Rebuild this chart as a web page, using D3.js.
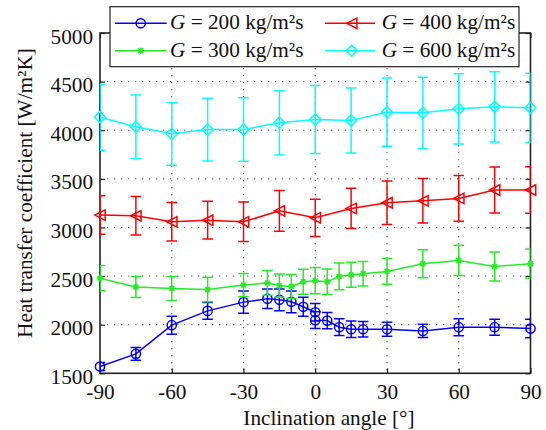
<!DOCTYPE html>
<html>
<head>
<meta charset="utf-8">
<script src="https://cdn.jsdelivr.net/npm/d3@7"></script>
<style>
  html, body { margin: 0; padding: 0; background: #fff; }
  svg { display: block; }
</style>
</head>
<body>
<svg id="chart" width="546" height="430"></svg>
<script>
// ---- data ----
const xTicks = [-90, -60, -30, 0, 30, 60, 90];
const yTicks = [1500, 2000, 2500, 3000, 3500, 4000, 4500, 5000];

const angles200 = [-90, -75, -60, -45, -30, -20, -15, -10, -5, 0, 0, 5, 10, 15, 20, 30, 45, 60, 75, 90];
const htc200 = [1570, 1700, 1995, 2142, 2232, 2266, 2256, 2235, 2184, 2128, 2046, 2042, 1974, 1953, 1953, 1953, 1936, 1974, 1974, 1960];
const err200 = [40, 65, 93, 86, 115, 100, 112, 111, 98, 90, 86, 84, 86, 86, 80, 72, 69, 88, 82, 95];

const angles300 = [-90, -75, -60, -45, -30, -20, -15, -10, -5, 0, 5, 10, 15, 20, 30, 45, 60, 75, 90];
const htc300 = [2479, 2387, 2372, 2362, 2407, 2430, 2401, 2393, 2442, 2453, 2442, 2497, 2513, 2524, 2548, 2627, 2661, 2599, 2627];
const err300 = [130, 108, 124, 126, 120, 127, 120, 124, 129, 136, 132, 137, 129, 125, 132, 143, 156, 149, 151];

const angles400 = [-90, -75, -60, -45, -30, -15, 0, 15, 30, 45, 60, 75, 90];
const htc400 = [3127, 3120, 3058, 3075, 3058, 3171, 3099, 3196, 3254, 3274, 3299, 3385, 3385];
const err400 = [198, 198, 198, 194, 203, 210, 192, 208, 223, 229, 235, 237, 239];

const angles600 = [-90, -75, -60, -45, -30, -15, 0, 15, 30, 45, 60, 75, 90];
const htc600 = [4134, 4035, 3963, 4007, 4007, 4076, 4110, 4100, 4186, 4179, 4220, 4241, 4231];
const err600 = [340, 327, 323, 323, 327, 330, 349, 335, 350, 366, 361, 361, 356];

const seriesNames = ["200", "300", "400", "600"];
const seriesColors = ["#0000ff", "#22ee22", "#ff0000", "#00ffff"];
const seriesMarkers = ["circle", "asterisk", "triangleLeft", "diamond"];

const xLabel = "Inclination angle [°]";
const yLabel = "Heat transfer coefficient [W/m²K]";

const svg = d3.select("#chart");

// ---- pick an installed serif font and size it to the reference text width ----
function fontAvailable(name) {
  const t = svg.append("text").attr("font-size", 40).text("Hamburgefontsiv 0123 WKm");
  t.attr("font-family", "monospace");
  const w0 = t.node().getComputedTextLength();
  t.attr("font-family", `'${name}', monospace`);
  const w1 = t.node().getComputedTextLength();
  t.remove();
  return Math.abs(w0 - w1) > 0.5;
}
const candidates = ["Liberation Serif", "Tinos", "Times New Roman", "Nimbus Roman", "Noto Serif", "DejaVu Serif"];
let FONT = "serif";
for (const c of candidates) { if (fontAvailable(c)) { FONT = `'${c}', serif`; break; } }
let FS = 21;
{
  const t = svg.append("text").attr("font-family", FONT).attr("font-size", 21).text(yLabel);
  const w = t.node().getComputedTextLength();
  t.remove();
  if (w > 0) FS = Math.min(21.5, 21 * 290 / w);
}

// ---- layout ----
const plot = { left: 100, right: 530.5, top: 33, bottom: 373.3 };
const x = d3.scaleLinear().domain([-90, 90]).range([plot.left, plot.right]);
const y = d3.scaleLinear().domain([1500, 5000]).range([plot.bottom, plot.top]);

svg.append("defs").append("clipPath").attr("id", "clip")
  .append("rect")
  .attr("x", plot.left).attr("y", plot.top)
  .attr("width", plot.right - plot.left).attr("height", plot.bottom - plot.top);

// grid
const grid = svg.append("g").attr("stroke", "#555").attr("stroke-width", 1)
  .attr("stroke-dasharray", "1.3,5.7");
grid.selectAll(".gx").data(xTicks.slice(1, -1)).enter().append("line")
  .attr("x1", d => x(d)).attr("x2", d => x(d))
  .attr("y1", plot.top).attr("y2", plot.bottom);
grid.selectAll(".gy").data(yTicks.slice(1, -1)).enter().append("line")
  .attr("x1", plot.left).attr("x2", plot.right)
  .attr("y1", d => y(d)).attr("y2", d => y(d));

// axes via d3 axis (inward ticks)
const tickLen = 5;
const fmt = d => String(d);
const axB = svg.append("g").attr("transform", `translate(0,${plot.bottom})`)
  .call(d3.axisBottom(x).tickValues(xTicks).tickFormat(fmt).tickSizeInner(-tickLen).tickSizeOuter(0).tickPadding(12));
const axT = svg.append("g").attr("transform", `translate(0,${plot.top})`)
  .call(d3.axisTop(x).tickValues(xTicks).tickSizeInner(-tickLen).tickSizeOuter(0).tickFormat(""));
const axL = svg.append("g").attr("transform", `translate(${plot.left},0)`)
  .call(d3.axisLeft(y).tickValues(yTicks).tickFormat(fmt).tickSizeInner(-tickLen).tickSizeOuter(0).tickPadding(7));
const axR = svg.append("g").attr("transform", `translate(${plot.right},0)`)
  .call(d3.axisRight(y).tickValues(yTicks).tickSizeInner(-tickLen).tickSizeOuter(0).tickFormat(""));

[axB, axT, axL, axR].forEach(a => {
  a.attr("font-family", FONT).attr("font-size", FS);
  a.select(".domain").remove();
  a.selectAll("line").attr("stroke", "#222").attr("stroke-width", 1.2);
  a.selectAll("text").attr("fill", "#111");
});
axB.selectAll("text").attr("dy", null).attr("y", 0).attr("transform", "translate(0,25.5)");
axL.selectAll("text").attr("dy", null).attr("y", 10);

// frame
svg.append("rect")
  .attr("x", plot.left).attr("y", plot.top)
  .attr("width", plot.right - plot.left).attr("height", plot.bottom - plot.top)
  .attr("fill", "none").attr("stroke", "#222").attr("stroke-width", 1.6);

// marker drawing
function drawMarker(g, type, cx, cy, color) {
  if (type === "circle") {
    g.append("circle").attr("cx", cx).attr("cy", cy).attr("r", 4.6)
      .attr("fill", "none").attr("stroke", color).attr("stroke-width", 1.5);
  } else if (type === "diamond") {
    const s = 5.6;
    g.append("path").attr("d", `M${cx},${cy - s}L${cx + s},${cy}L${cx},${cy + s}L${cx - s},${cy}Z`)
      .attr("fill", "none").attr("stroke", color).attr("stroke-width", 1.5);
  } else if (type === "triangleLeft") {
    const s = 5.2;
    g.append("path").attr("d", `M${cx - s},${cy}L${cx + s},${cy - s}L${cx + s},${cy + s}Z`)
      .attr("fill", "none").attr("stroke", color).attr("stroke-width", 1.5);
  } else if (type === "asterisk") {
    const s = 3.3, d = 2.4;
    g.append("path").attr("d",
      `M${cx - d},${cy - d}L${cx + d},${cy + d}M${cx - d},${cy + d}L${cx + d},${cy - d}M${cx - s},${cy}L${cx + s},${cy}M${cx},${cy - s}L${cx},${cy + s}`)
      .attr("fill", "none").attr("stroke", color).attr("stroke-width", 1.6);
  }
}

const allSeries = [
  { xs: angles200, ys: htc200, es: err200 },
  { xs: angles300, ys: htc300, es: err300 },
  { xs: angles400, ys: htc400, es: err400 },
  { xs: angles600, ys: htc600, es: err600 }
];

const capW = 5.3;
allSeries.forEach((s, i) => {
  const color = seriesColors[i];
  const pts = s.xs.map((a, j) => ({ a, v: s.ys[j], e: s.es[j] }));
  const clipped = svg.append("g").attr("clip-path", "url(#clip)");
  const eb = clipped.append("g").attr("stroke", color).attr("stroke-width", 1.5).attr("fill", "none");
  pts.forEach(p => {
    const cx = x(p.a), y1 = y(p.v + p.e), y2 = y(p.v - p.e);
    eb.append("path").attr("d",
      `M${cx},${y1}L${cx},${y2}M${cx - capW},${y1}L${cx + capW},${y1}M${cx - capW},${y2}L${cx + capW},${y2}`);
  });
  clipped.append("path")
    .attr("d", d3.line().x(p => x(p.a)).y(p => y(p.v))(pts))
    .attr("fill", "none").attr("stroke", color).attr("stroke-width", 1.5);
  const mg = svg.append("g");
  pts.forEach(p => drawMarker(mg, seriesMarkers[i], x(p.a), y(p.v), color));
});

// axis labels
svg.append("text")
  .attr("x", 329).attr("y", 425)
  .attr("text-anchor", "middle").attr("font-size", FS).attr("font-family", FONT).attr("fill", "#111")
  .text(xLabel);
svg.append("text")
  .attr("transform", "translate(32,193) rotate(-90)")
  .attr("text-anchor", "middle").attr("font-size", FS).attr("font-family", FONT).attr("fill", "#111")
  .text(yLabel);

// legend
const legend = svg.append("g");
legend.append("rect")
  .attr("x", 110).attr("y", 6.7).attr("width", 409).attr("height", 60)
  .attr("fill", "#fff").attr("stroke", "#222").attr("stroke-width", 1.2);
const legPos = [
  { x0: 115, x1: 166.7, mx: 140.7, tx: 170, ly: 23.3, ty: 29.3 },
  { x0: 115, x1: 166.7, mx: 140.7, tx: 170, ly: 50.7, ty: 57 },
  { x0: 325, x1: 375, mx: 351.7, tx: 381.7, ly: 23.3, ty: 29.3 },
  { x0: 325, x1: 375, mx: 351.7, tx: 381.7, ly: 50.7, ty: 57 }
];
seriesNames.forEach((name, i) => {
  const p = legPos[i];
  legend.append("line").attr("x1", p.x0).attr("x2", p.x1).attr("y1", p.ly).attr("y2", p.ly)
    .attr("stroke", seriesColors[i]).attr("stroke-width", 1.5);
  drawMarker(legend, seriesMarkers[i], p.mx, p.ly, seriesColors[i]);
  const t = legend.append("text").attr("x", p.tx).attr("y", p.ty)
    .attr("font-size", FS).attr("font-family", FONT).attr("fill", "#111");
  t.append("tspan").attr("font-style", "italic").text("G");
  t.append("tspan").text(` = ${name} kg/m²s`);
});
</script>
</body>
</html>
